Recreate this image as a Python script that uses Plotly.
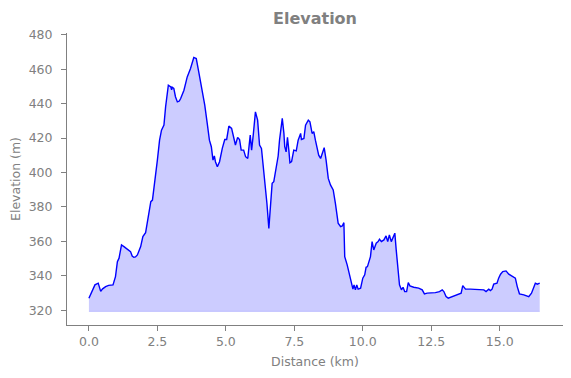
import plotly.graph_objects as go

distance_km = [0.00, 0.08, 0.15, 0.22, 0.34, 0.43, 0.50, 0.61, 0.72, 0.83, 0.88, 0.97, 1.04, 1.10, 1.15,
               1.19, 1.28, 1.40, 1.52, 1.58, 1.64, 1.70, 1.77, 1.89, 1.97, 2.07, 2.17, 2.26, 2.32, 2.37,
               2.43, 2.50, 2.58, 2.65, 2.74, 2.80, 2.90, 2.94, 2.99, 3.02, 3.04, 3.10, 3.16, 3.23, 3.30,
               3.35, 3.47, 3.59, 3.71, 3.83, 3.92, 4.01, 4.14, 4.23, 4.32, 4.40, 4.47, 4.53, 4.58, 4.62,
               4.69, 4.77, 4.87, 4.96, 5.03, 5.11, 5.21, 5.29, 5.35, 5.43, 5.50, 5.56, 5.65, 5.72, 5.80,
               5.89, 5.94, 6.00, 6.08, 6.16, 6.23, 6.30, 6.39, 6.43, 6.50, 6.57, 6.63, 6.69, 6.75, 6.81,
               6.88, 6.91, 6.96, 7.02, 7.06, 7.12, 7.15, 7.20, 7.25, 7.30, 7.34, 7.40, 7.48, 7.57, 7.64,
               7.73, 7.76, 7.85, 7.91, 8.01, 8.07, 8.15, 8.21, 8.27, 8.33, 8.39, 8.46, 8.52, 8.59, 8.66,
               8.74, 8.82, 8.92, 9.00, 9.10, 9.19, 9.25, 9.31, 9.34, 9.43, 9.51, 9.59, 9.64, 9.68, 9.73,
               9.78, 9.83, 9.92, 10.00, 10.07, 10.12, 10.17, 10.22, 10.28, 10.34, 10.40, 10.49, 10.56,
               10.61, 10.68, 10.77, 10.85, 10.91, 10.97, 11.04, 11.09, 11.17, 11.22, 11.28, 11.34, 11.41,
               11.47, 11.53, 11.60, 11.66, 11.72, 11.86, 12.04, 12.17, 12.25, 12.35, 12.47, 12.65, 12.80,
               12.90, 12.96, 13.04, 13.12, 13.26, 13.44, 13.59, 13.65, 13.75, 13.93, 14.18, 14.42, 14.50,
               14.60, 14.66, 14.72, 14.78, 14.90, 14.96, 15.03, 15.11, 15.23, 15.33, 15.45, 15.57, 15.64,
               15.72, 15.88, 16.06, 16.16, 16.24, 16.30, 16.37, 16.46]

elevation_m = [327.0, 329.5, 331.9, 334.8, 335.8, 331.0, 332.5, 333.8, 334.5, 335.0, 334.8, 339.6, 348.3, 350.3, 354.0,
               358.0, 357.0, 355.5, 354.1, 351.5, 350.8, 351.0, 352.2, 357.0, 362.8, 365.1, 374.4, 383.1, 384.0, 389.9,
               395.7, 407.2, 418.8, 424.6, 427.5, 438.1, 450.7, 450.1, 449.7, 448.0, 449.5, 448.8, 444.0, 441.0, 441.5,
               443.0, 447.8, 455.5, 460.4, 466.8, 466.2, 458.4, 447.8, 439.1, 428.5, 418.8, 415.0, 407.2, 409.6, 406.3,
               403.4, 406.3, 414.0, 419.2, 419.2, 427.0, 425.6, 419.8, 416.0, 420.4, 419.2, 413.0, 413.0, 409.2, 408.2,
               421.7, 413.0, 421.7, 435.2, 430.4, 416.0, 414.0, 399.5, 395.0, 382.0, 367.6, 380.2, 393.7, 394.7, 401.4,
               409.2, 409.6, 418.8, 426.5, 431.4, 422.7, 415.0, 412.0, 420.4, 413.0, 405.7, 406.3, 413.0, 412.6, 418.8,
               422.7, 419.2, 419.8, 427.5, 430.4, 429.4, 422.7, 423.7, 418.8, 415.0, 410.1, 408.2, 411.1, 414.4, 407.2,
               396.6, 392.8, 389.9, 382.1, 370.6, 368.6, 369.0, 370.9, 351.2, 346.4, 341.6, 335.8, 332.3, 334.8, 331.9,
               334.8, 332.3, 332.9, 338.7, 340.6, 345.0, 345.4, 348.3, 351.2, 359.9, 355.1, 359.0, 359.9,
               361.3, 359.9, 360.9, 363.2, 359.9, 363.8, 359.9, 361.9, 364.8, 355.1, 343.5, 334.8, 331.9,
               333.4, 330.9, 330.9, 336.1, 334.2, 333.4, 332.9, 331.9, 329.6, 330.0, 330.0, 330.3, 330.9,
               331.9, 330.9, 328.0, 327.1, 328.0, 329.4, 330.0, 334.4, 332.3, 332.3, 331.9, 331.9, 330.9,
               332.3, 331.5, 332.3, 335.2, 335.8, 338.7, 341.0, 342.5, 342.9, 341.0, 340.0, 338.7, 333.8,
               329.6, 329.0, 328.0, 330.0, 332.9, 335.8, 335.2, 335.8]

fill_base_m = 319.4
x_tick_vals = [0, 2.5, 5, 7.5, 10, 12.5, 15]
x_tick_text = ["0.0", "2.5", "5.0", "7.5", "10.0", "12.5", "15.0"]
y_tick_vals = [320, 340, 360, 380, 400, 420, 440, 460, 480]

GREY = "#808080"
FONT = "DejaVu Sans"

fig = go.Figure()
fig.add_trace(go.Scatter(
    x=distance_km, y=[fill_base_m] * len(distance_km),
    mode="lines", line=dict(color="rgba(0,0,255,0.15)", width=1),
    hoverinfo="skip", showlegend=False))
fig.add_trace(go.Scatter(
    x=distance_km, y=elevation_m, mode="lines",
    line=dict(color="#0000ff", width=1.4),
    fill="tonexty", fillcolor="rgba(0,0,255,0.2)", showlegend=False))

axis_common = dict(
    showline=True, linecolor=GREY, linewidth=1, ticks="outside", ticklen=5,
    tickcolor=GREY, tickwidth=1, showgrid=False, zeroline=False, automargin=False,
    tickfont=dict(family=FONT, size=12.5, color=GREY),
)

# the page body has an 8px default margin, so the figure is 8px smaller
fig.update_layout(
    width=563, height=370,
    margin=dict(l=58.5, r=8.3, t=24.7, b=52.7),
    paper_bgcolor="white", plot_bgcolor="white",
    title=dict(text="<b>Elevation</b>", x=0.5, xref="paper", xanchor="center",
               y=1 - 10 / 370, yref="container", yanchor="middle",
               font=dict(family=FONT, size=16, color=GREY)),
    xaxis=dict(range=[-0.8, 17.31], tickvals=x_tick_vals, ticktext=x_tick_text,
               title=dict(text="Distance (km)", font=dict(family=FONT, size=12.5, color=GREY), standoff=9),
               **axis_common),
    yaxis=dict(range=[311.5, 481], tickvals=y_tick_vals,
               title=dict(text="Elevation (m)", font=dict(family=FONT, size=12.5, color=GREY), standoff=6),
               ticklabelstandoff=6,
               **axis_common),
)

fig.write_html("out.html")
